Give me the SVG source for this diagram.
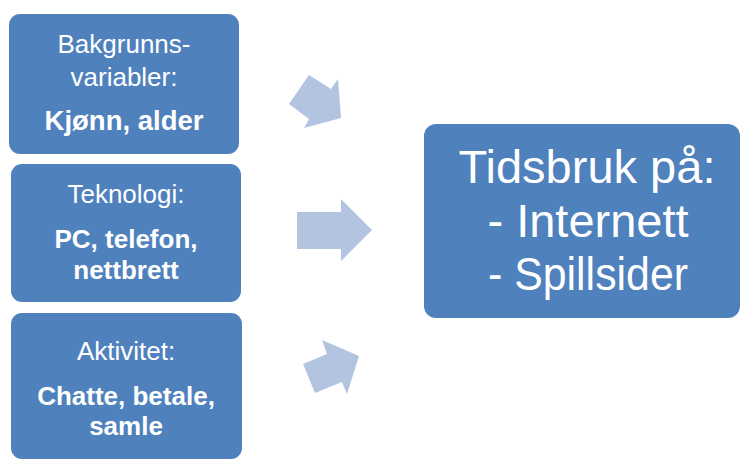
<svg xmlns="http://www.w3.org/2000/svg" width="740" height="460" viewBox="0 0 740 460">
<style>
.box{fill:#4F81BD;}
.arrow{fill:#B2C4DF;}
.t{font-family:"Liberation Sans",Arial,sans-serif;fill:#FFFFFF;text-anchor:middle;}
.r{font-size:26px;}
.b{font-size:26px;font-weight:bold;}
.b27{font-size:27.5px;font-weight:bold;}
.big{font-size:47px;}
</style>
<rect width="740" height="460" fill="#FFFFFF"/>
<g id="node-bakgrunn">
<rect class="box" x="9" y="14" width="230" height="140" rx="11"/>
<text class="t r" x="124" y="53">Bakgrunns-</text>
<text class="t r" x="124" y="86">variabler:</text>
<text class="t b27" x="124" y="130">Kjønn, alder</text>
</g>
<g id="node-teknologi">
<rect class="box" x="11" y="164" width="230" height="138" rx="11"/>
<text class="t r" x="126" y="203">Teknologi:</text>
<text class="t b" x="126" y="248">PC, telefon,</text>
<text class="t b" x="126" y="279">nettbrett</text>
</g>
<g id="node-aktivitet">
<rect class="box" x="11" y="313" width="231" height="146" rx="11"/>
<text class="t r" x="126" y="360">Aktivitet:</text>
<text class="t b" x="126" y="405">Chatte, betale,</text>
<text class="t b" x="126" y="435">samle</text>
</g>
<g id="node-tidsbruk">
<rect class="box" x="424" y="124" width="316" height="194" rx="12"/>
<text class="t big" x="587" y="183">Tidsbruk på:</text>
<text class="t big" x="588" y="237">- Internett</text>
<text class="t big" x="588" y="290" textLength="200" lengthAdjust="spacingAndGlyphs">- Spillsider</text>
</g>
<g id="connectors">
<polygon class="arrow" points="309,75 331,89 338,79 341,118 304,128 309,119 289,104"/>
<polygon class="arrow" points="297,212 341,212 341,199 372,230 341,261 341,249 297,249"/>
<polygon class="arrow" points="303,364 327,354 322,340 359,356 347,394 342,382 315,393"/>
</g>
</svg>
